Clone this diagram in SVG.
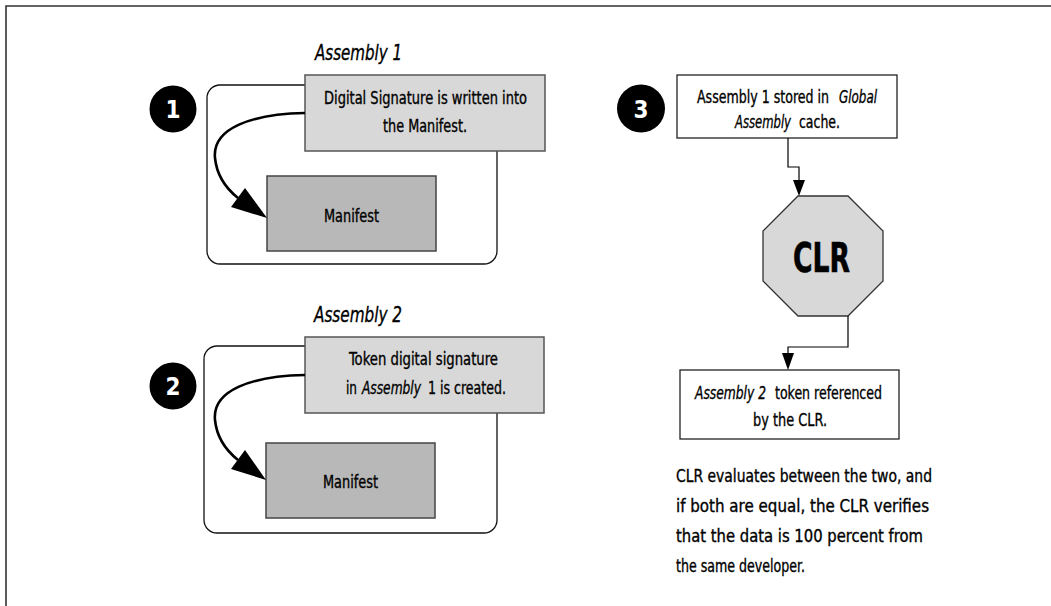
<svg xmlns="http://www.w3.org/2000/svg" width="1051" height="606" viewBox="0 0 1051 606">
<style>
.t{font-family:"DejaVu Sans Condensed","Liberation Sans Narrow","Liberation Sans",sans-serif;font-size:18px;fill:#000;stroke:#000;stroke-width:0.35;}
.h{font-size:22px;font-style:italic;}
.i{font-style:italic;}
.clrt{font-size:41px;font-weight:bold;stroke-width:0.6;}
.num{font-family:"DejaVu Sans Condensed","Liberation Sans",sans-serif;font-size:24px;font-weight:bold;fill:#fff;text-anchor:middle;}
.outer{fill:#fff;stroke:#111;stroke-width:1.3;}
.grey{fill:#d8d8d8;stroke:#555;stroke-width:1.5;}
.man{fill:#b8b8b8;stroke:#444;stroke-width:1.5;}
.wbox{fill:#fff;stroke:#222;stroke-width:1.3;}
.curve{fill:none;stroke:#000;stroke-width:2.6;}
.conn{fill:none;stroke:#000;stroke-width:1.2;}
.head{fill:#000;}
</style>
<rect x="0" y="0" width="1051" height="606" fill="#fff"/>
<path d="M6,606 L6,6 L1051,6" fill="none" stroke="#333" stroke-width="1.6"/>

<g id="assembly1">
<text class="t h" x="315" y="60" textLength="87" lengthAdjust="spacingAndGlyphs">Assembly 1</text>
<rect class="outer" x="207" y="85" width="290" height="179" rx="13"/>
</g>
<g id="step1">
<circle cx="173" cy="109" r="23.5" fill="#000"/>
<text class="num" x="173" y="118">1</text>
</g>
<g id="sig1">
<rect class="grey" x="305" y="75" width="240" height="76"/>
<text class="t" x="324" y="104" textLength="203" lengthAdjust="spacingAndGlyphs">Digital Signature is written into</text>
<text class="t" x="383" y="132" textLength="84" lengthAdjust="spacingAndGlyphs">the Manifest.</text>
</g>
<g id="manifest1">
<rect class="man" x="267" y="176" width="169" height="75"/>
<text class="t" x="324" y="222" textLength="55" lengthAdjust="spacingAndGlyphs">Manifest</text>
</g>

<g id="assembly2">
<text class="t h" x="314" y="322" textLength="88" lengthAdjust="spacingAndGlyphs">Assembly 2</text>
<rect class="outer" x="204" y="346" width="293" height="187" rx="13"/>
</g>
<g id="step2">
<circle cx="173" cy="386" r="23.5" fill="#000"/>
<text class="num" x="173" y="395">2</text>
</g>
<g id="sig2">
<rect class="grey" x="305" y="337" width="239" height="76"/>
<text class="t" x="349" y="365" textLength="149" lengthAdjust="spacingAndGlyphs">Token digital signature</text>
<text class="t" x="346" y="394" textLength="11" lengthAdjust="spacingAndGlyphs">in</text>
<text class="t i" x="362" y="394" textLength="59" lengthAdjust="spacingAndGlyphs">Assembly</text>
<text class="t" x="428" y="394" textLength="78" lengthAdjust="spacingAndGlyphs">1 is created.</text>
</g>
<g id="manifest2">
<rect class="man" x="266" y="443" width="169" height="75"/>
<text class="t" x="323" y="488" textLength="55" lengthAdjust="spacingAndGlyphs">Manifest</text>
</g>

<g id="step3">
<circle cx="641" cy="108.5" r="24" fill="#000"/>
<text class="num" x="641" y="118">3</text>
</g>
<g id="gac">
<rect class="wbox" x="677" y="75" width="220" height="63"/>
<text class="t" x="697" y="103" textLength="132" lengthAdjust="spacingAndGlyphs">Assembly 1 stored in</text>
<text class="t i" x="839" y="103" textLength="38" lengthAdjust="spacingAndGlyphs">Global</text>
<text class="t i" x="735" y="128" textLength="56" lengthAdjust="spacingAndGlyphs">Assembly</text>
<text class="t" x="799" y="128" textLength="41" lengthAdjust="spacingAndGlyphs">cache.</text>
</g>
<g id="clr">
<polygon points="798,196 848,196 883,231 883,281 848,316 798,316 763,281 763,231" fill="#d8d8d8" stroke="#333" stroke-width="1.3"/>
<text class="t clrt" x="793" y="272" textLength="57" lengthAdjust="spacingAndGlyphs">CLR</text>
</g>
<g id="token">
<rect class="wbox" x="680" y="370" width="219" height="69"/>
<text class="t i" x="695" y="399" textLength="71" lengthAdjust="spacingAndGlyphs">Assembly 2</text>
<text class="t" x="775" y="399" textLength="107" lengthAdjust="spacingAndGlyphs">token referenced</text>
<text class="t" x="753" y="426" textLength="74" lengthAdjust="spacingAndGlyphs">by the CLR.</text>
</g>
<g id="note">
<text class="t" x="676" y="482" textLength="256" lengthAdjust="spacingAndGlyphs">CLR evaluates between the two, and</text>
<text class="t" x="676" y="512" textLength="253" lengthAdjust="spacingAndGlyphs">if both are equal, the CLR verifies</text>
<text class="t" x="676" y="542" textLength="247" lengthAdjust="spacingAndGlyphs">that the data is 100 percent from</text>
<text class="t" x="676" y="572" textLength="129" lengthAdjust="spacingAndGlyphs">the same developer.</text>
</g>

<g id="connectors">
<path class="curve" d="M305,113 C252,114 212,128 215,158 C217,178 228,190 238,198"/>
<polygon class="head" points="267,218 231,207 245,188"/>
<path class="curve" d="M305,375 C252,376 212,390 215,420 C217,440 228,452 238,460"/>
<polygon class="head" points="266,480 231,469 245,450"/>
<path class="conn" d="M788,138 L788,167 L799,167 L799,182"/>
<polygon class="head" points="799,196 793,180 805,180"/>
<path class="conn" d="M848,316 L848,347 L788,347 L788,355"/>
<polygon class="head" points="788,370 782,353 794,353"/>
</g>
</svg>
